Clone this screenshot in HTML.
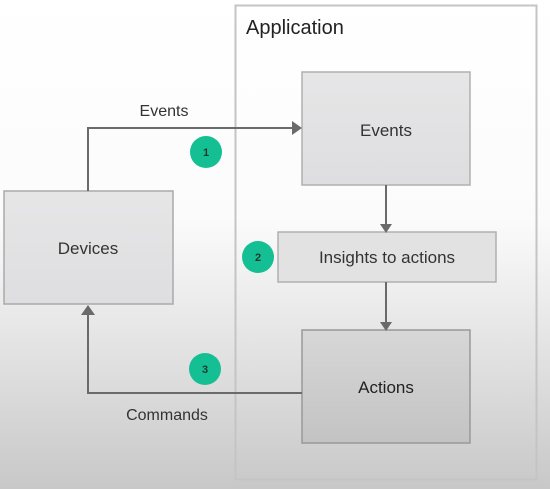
<!DOCTYPE html>
<html><head><style>
body{margin:0;width:550px;height:489px;overflow:hidden;background:linear-gradient(to bottom,#fff 0%,#fbfbfb 45%,#e4e4e4 70%,#c8c8c8 100%);font-family:"Liberation Sans",sans-serif;}
</style></head><body>
<svg width="550" height="489" xmlns="http://www.w3.org/2000/svg" style="position:absolute;left:0;top:0">
<defs>
<linearGradient id="g1" x1="0" y1="0" x2="0" y2="1"><stop offset="0" stop-color="#e7e6e7"/><stop offset="1" stop-color="#dedddf"/></linearGradient>
<linearGradient id="g2" x1="0" y1="0" x2="0" y2="1"><stop offset="0" stop-color="#d8d7d8"/><stop offset="1" stop-color="#c4c3c4"/></linearGradient>
</defs>
<rect x="235.5" y="5.5" width="301" height="474" fill="none" stroke="#c4c4c4" stroke-width="2"/>
<text x="246" y="34" font-size="20" fill="#222">Application</text>
<rect x="302" y="72" width="168" height="113" fill="url(#g1)" stroke="#b0b0b0" stroke-width="1.5"/>
<text x="386" y="136" font-size="17" fill="#333" text-anchor="middle">Events</text>
<rect x="4" y="191" width="169" height="113" fill="url(#g1)" stroke="#aaa" stroke-width="1.5"/>
<text x="88" y="254" font-size="17" fill="#333" text-anchor="middle">Devices</text>
<rect x="278" y="232" width="218" height="50" fill="#e3e2e3" stroke="#b0b0b0" stroke-width="1.5"/>
<text x="387" y="263" font-size="17" fill="#333" text-anchor="middle">Insights to actions</text>
<rect x="302" y="330" width="168" height="113" fill="url(#g2)" stroke="#999" stroke-width="1.5"/>
<text x="386" y="393" font-size="17" fill="#222" text-anchor="middle">Actions</text>
<g stroke="#6a6a6a" stroke-width="2" fill="none">
<polyline points="88,191 88,128 294,128"/>
<line x1="386" y1="185" x2="386" y2="227"/>
<line x1="386" y1="282" x2="386" y2="325"/>
<polyline points="302,393 88,393 88,314"/>
</g>
<g fill="#6a6a6a">
<polygon points="302,128 292,121 292,135"/>
<polygon points="386,233 380,224 392,224"/>
<polygon points="386,331 380,322 392,322"/>
<polygon points="88,305 81,315 95,315"/>
</g>
<text x="164" y="116" font-size="16" fill="#333" text-anchor="middle">Events</text>
<text x="167" y="420" font-size="16" fill="#333" text-anchor="middle">Commands</text>
<g font-size="11" font-weight="bold" fill="#1c3a30" text-anchor="middle">
<circle cx="206" cy="152" r="16" fill="#14c093"/><text x="206" y="156">1</text>
<circle cx="258" cy="257" r="16" fill="#14c093"/><text x="258" y="261">2</text>
<circle cx="205" cy="369" r="16" fill="#14c093"/><text x="205" y="373">3</text>
</g>
</svg>
</body></html>
